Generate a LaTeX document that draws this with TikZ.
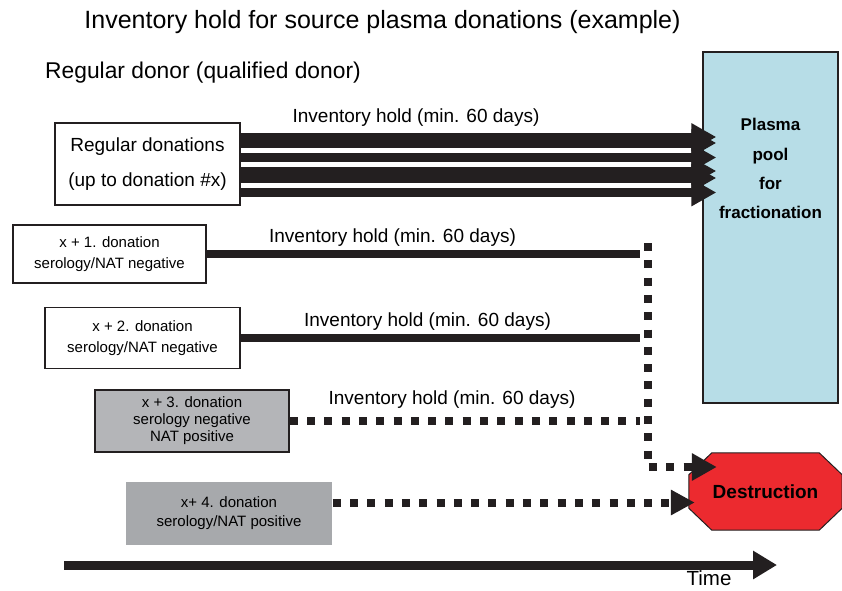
\documentclass[tikz,border=0pt]{standalone}
\usepackage{fontspec}
\setmainfont{Liberation Sans}
\usepackage{xcolor}
\usetikzlibrary{arrows.meta,positioning,backgrounds}
\definecolor{ink}{HTML}{231F20}
\definecolor{poolblue}{HTML}{B7DDE7}
\definecolor{alarm}{HTML}{EC2A2F}
\definecolor{greyA}{HTML}{B4B5B8}
\definecolor{greyB}{HTML}{A7A9AC}

\begin{document}
\begin{tikzpicture}[
  x=1pt,y=-1pt,
  donbox/.style={draw=ink,line width=1.4pt,fill=white,align=center,inner sep=0pt,font=\fontsize{15}{21}\selectfont},
  hold/.style={draw=ink,line width=8pt},
  quarantine/.style={draw=ink,line width=8pt,dash pattern=on 8pt off 9.3pt},
  fat/.style={-{Triangle[length=25pt,width=26pt]},draw=ink,line width=9pt},
  holdlabel/.style={font=\fontsize{19}{23}\selectfont}
]
\useasboundingbox (0,0) rectangle (842,590);

\node[font=\fontsize{25}{29}\selectfont] (title) at (382.5,22) {Inventory hold for source plasma donations (example)};
\node[font=\fontsize{22.8}{26}\selectfont,anchor=west,inner sep=0pt] (donor) at (45,73) {Regular donor (qualified donor)};

% pool and destruction
\node[draw=ink,line width=1.4pt,fill=poolblue,minimum width=135pt,minimum height=351pt] (pool) at (770.5,227.5) {};
\node[font=\bfseries\fontsize{17}{29.3}\selectfont,align=center,inner sep=0pt,below=67pt of pool.north] (pooltext) {Plasma\\pool\\for\\fractionation};
\node[minimum width=153pt,minimum height=77pt,inner sep=0pt,font=\bfseries\fontsize{19}{23}\selectfont] (destroy) at (765.5,491.5) {Destruction};
\begin{scope}[on background layer]
\draw[draw=ink,line width=1pt,fill=alarm] ([yshift=-22pt]destroy.north west) -- ([xshift=23pt]destroy.north west)
  -- ([xshift=-23pt]destroy.north east) -- ([yshift=-22pt]destroy.north east)
  -- ([yshift=22pt]destroy.south east) -- ([xshift=-23pt]destroy.south east)
  -- ([xshift=23pt]destroy.south west) -- ([yshift=22pt]destroy.south west) -- cycle;
\end{scope}

% donations
\node[donbox,font=\fontsize{19}{35}\selectfont,minimum width=185pt,minimum height=82pt] (regular) at (147.5,164) {Regular donations\\(up to donation \#x)};
\node[donbox,minimum width=193pt,minimum height=58pt] (x1) at (109.5,254) {x + 1. donation\\serology/NAT negative};
\node[donbox,minimum width=195pt,minimum height=61pt] (x2) at (142.5,338) {x + 2. donation\\serology/NAT negative};
\node[donbox,fill=greyA,font=\fontsize{15}{17}\selectfont,minimum width=194pt,minimum height=62pt] (x3) at (192,421) {x + 3. donation\\serology negative\\NAT positive};
\node[donbox,draw=none,fill=greyB,font=\fontsize{15}{19}\selectfont,minimum width=206pt,minimum height=63pt] (x4) at (229,513.5) {x+ 4. donation\\serology/NAT positive};

\node[holdlabel] (hold0) at (416,118) {Inventory hold (min. 60 days)};
\node[holdlabel] (hold1) at (392.5,238) {Inventory hold (min. 60 days)};
\node[holdlabel] (hold2) at (427.5,322) {Inventory hold (min. 60 days)};
\node[holdlabel] (hold3) at (452,400) {Inventory hold (min. 60 days)};

\foreach \y in {137,143,157.5,171,178,192.5}
  \draw[fat,shorten >=-14pt] (regular.east |- 0,\y) -- (pool.west |- 0,\y);

\coordinate (top) at (648,243);
\coordinate (bend) at (648,467);
\draw[hold,shorten >=8pt] (x1.east) -- (x1.east -| top);
\draw[hold,shorten >=8pt] (x2.east) -- (x2.east -| top);
\draw[quarantine,shorten >=8pt] (x3.east) -- (x3.east -| top);
\draw[quarantine,-{Triangle[length=25pt,width=26pt]},shorten >=-28pt] (top) -- (bend) -- (destroy.west |- bend);
\coordinate (x4out) at ([yshift=11pt]x4.east);
\draw[quarantine,-{Triangle[length=24pt,width=24pt]},shorten >=-6pt] (x4out) -- (x4out -| destroy.west);

% time axis
\coordinate (t0) at (64,565);
\coordinate (t1) at (777,565);
\draw[-{Triangle[length=24pt,width=27pt]},draw=ink,line width=9pt] (t0) -- (t1);
\node[font=\fontsize{20.5}{24}\selectfont,inner sep=0pt] (time) at (709,578.5) {Time};
\end{tikzpicture}
\end{document}
